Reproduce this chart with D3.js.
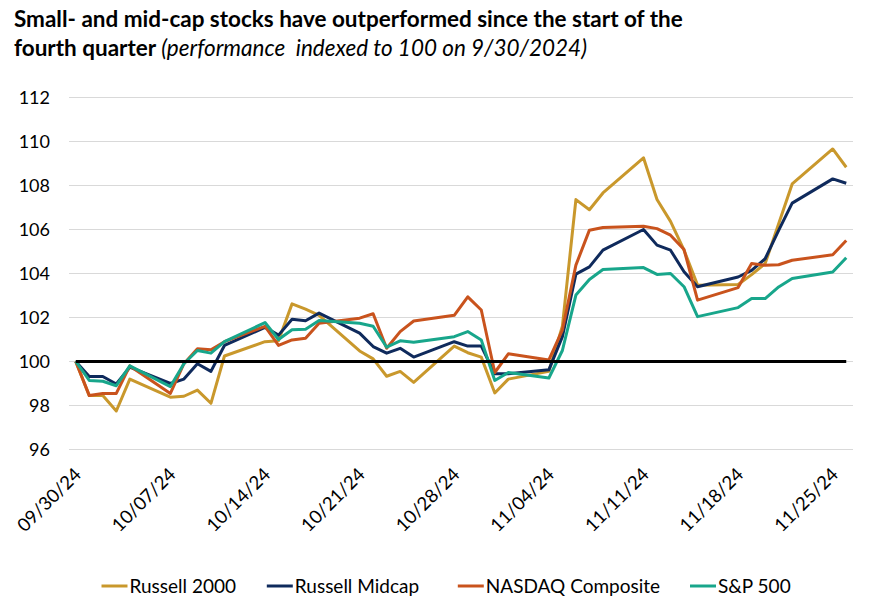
<!DOCTYPE html>
<html>
<head>
<meta charset="utf-8">
<script src="https://cdn.jsdelivr.net/npm/d3@7"></script>
<style>
  html, body { margin: 0; padding: 0; background: #fff; }
  svg { display: block; font-family: Lato, "Open Sans", sans-serif; }
</style>
</head>
<body>
<svg id="chart" width="885" height="612"></svg>
<script>
// ---- data ----
const dates = ["2024-09-30","2024-10-01","2024-10-02","2024-10-03","2024-10-04",
  "2024-10-07","2024-10-08","2024-10-09","2024-10-10","2024-10-11",
  "2024-10-14","2024-10-15","2024-10-16","2024-10-17","2024-10-18",
  "2024-10-21","2024-10-22","2024-10-23","2024-10-24","2024-10-25",
  "2024-10-28","2024-10-29","2024-10-30","2024-10-31","2024-11-01",
  "2024-11-04","2024-11-05","2024-11-06","2024-11-07","2024-11-08",
  "2024-11-11","2024-11-12","2024-11-13","2024-11-14","2024-11-15",
  "2024-11-18","2024-11-19","2024-11-20","2024-11-21","2024-11-22",
  "2024-11-25","2024-11-26"];
const russell2000 = [100, 98.45, 98.45, 97.75, 99.2, 98.38, 98.42, 98.7, 98.1, 100.25,
  100.9, 100.94, 102.62, 102.38, 102.1, 100.48, 100.12, 99.33, 99.55, 99.05,
  100.7, 100.4, 100.2, 98.57, 99.2, 99.55, 101.6, 107.36, 106.9, 107.66,
  109.26, 107.36, 106.37, 105.06, 103.47, 103.5, 103.95, 104.45, 106.26, 108.07,
  109.66, 108.83];
const russellMidcap = [100, 99.32, 99.32, 98.98, 99.74, 99.0, 99.2, 99.9, 99.55, 100.73,
  101.55, 101.2, 101.92, 101.85, 102.2, 101.29, 100.68, 100.38, 100.6, 100.2,
  100.9, 100.7, 100.7, 99.44, 99.44, 99.62, 101.13, 103.97, 104.3, 105.06,
  106.0, 105.29, 105.06, 104.08, 103.4, 103.84, 104.14, 104.67, 105.96, 107.2,
  108.3, 108.1];
const nasdaq = [100, 98.45, 98.55, 98.55, 99.8, 98.55, 99.9, 100.58, 100.53, 100.9,
  101.6, 100.73, 100.98, 101.06, 101.74, 101.97, 102.17, 100.6, 101.36, 101.84,
  102.1, 102.94, 102.34, 99.5, 100.35, 100.07, 101.43, 104.38, 105.97, 106.09,
  106.15, 106.04, 105.74, 105.09, 102.79, 103.36, 104.45, 104.37, 104.4, 104.6,
  104.85, 105.5];
const sp500 = [100, 99.14, 99.1, 98.9, 99.8, 98.86, 99.9, 100.5, 100.38, 100.9,
  101.77, 101.0, 101.44, 101.47, 101.86, 101.74, 101.6, 100.65, 100.94, 100.87,
  101.13, 101.36, 100.98, 99.14, 99.5, 99.25, 100.5, 103.02, 103.73, 104.18,
  104.27, 103.96, 104.0, 103.4, 102.04, 102.45, 102.86, 102.86, 103.39, 103.77,
  104.07, 104.72];
const baseline = 100;
const seriesNames = ["Russell 2000", "Russell Midcap", "NASDAQ Composite", "S&P 500"];
const seriesColors = ["#C9982C", "#0F2A5C", "#C9531D", "#18A68B"];
const yTicks = [96, 98, 100, 102, 104, 106, 108, 110, 112];
const xTickLabels = ["09/30/24","10/07/24","10/14/24","10/21/24","10/28/24","11/04/24","11/11/24","11/18/24","11/25/24"];
const titleLine1 = "Small- and mid-cap stocks have outperformed since the start of the";
const titleLine2Bold = "fourth quarter ";
const titleLine2Italic = "(performance  indexed to 100 on 9/30/2024)";

// ---- setup ----
const svg = d3.select("#chart");
const parse = d3.timeParse("%Y-%m-%d");
const tickParse = d3.timeParse("%m/%d/%y");
const dayMs = 864e5;
const xDates = dates.map(parse);
const x = d3.scaleTime()
  .domain([new Date(+xDates[0] - dayMs / 2), new Date(+xDates[xDates.length - 1] + dayMs / 2)])
  .range([69, 853]);
const y = d3.scaleLinear().domain([96, 112]).range([449.5, 97.5]);

// gridlines
svg.append("g").selectAll("line").data(yTicks).join("line")
  .attr("x1", 69).attr("x2", 853)
  .attr("y1", d => y(d)).attr("y2", d => y(d))
  .attr("stroke", "#d9d9d9").attr("stroke-width", 1);

// y axis labels
const yAxis = d3.axisLeft(y).tickValues(yTicks).tickSize(0).tickPadding(0);
const yg = svg.append("g").attr("transform", "translate(50,0)").call(yAxis);
yg.select(".domain").remove();
yg.selectAll("text").attr("font-size", 18).attr("fill", "#000")
  .attr("font-family", "Lato, sans-serif").attr("dy", "0.36em");

// x axis labels
const xAxis = d3.axisBottom(x).tickValues(xTickLabels.map(tickParse))
  .tickFormat(d3.timeFormat("%m/%d/%y")).tickSize(0);
const xg = svg.append("g").call(xAxis);
xg.select(".domain").remove();
xg.selectAll(".tick").attr("transform", d => `translate(${x(d) + 2},471)`);
xg.selectAll("text")
  .attr("font-size", 18.5).attr("fill", "#000").attr("font-family", "Lato, sans-serif")
  .attr("text-anchor", "end").attr("y", 0).attr("dy", "0.35em")
  .attr("transform", "rotate(-45)");

// lines
const allSeries = [russell2000, russellMidcap, nasdaq, sp500];
const line = d3.line().x((d, i) => x(xDates[i])).y(d => y(d));
svg.append("g").selectAll("path").data(allSeries).join("path")
  .attr("d", d => line(d))
  .attr("fill", "none")
  .attr("stroke", (d, i) => seriesColors[i])
  .attr("stroke-width", 3)
  .attr("stroke-linejoin", "round");

// 100 baseline
svg.append("path")
  .attr("d", line(dates.map(() => baseline)))
  .attr("fill", "none").attr("stroke", "#000").attr("stroke-width", 3);

// title
function fitWidth(sel, target) {
  const w = sel.node().getComputedTextLength();
  const fs = parseFloat(sel.attr("font-size"));
  sel.attr("font-size", fs * target / w);
}
const t1 = svg.append("text").attr("x", 14).attr("y", 27)
  .attr("font-size", 20).attr("font-weight", "bold").attr("fill", "#000")
  .text(titleLine1);
fitWidth(t1, 669);
const fsTitle = parseFloat(t1.attr("font-size"));
const t2 = svg.append("text").attr("x", 14).attr("y", 56)
  .attr("font-size", fsTitle).attr("fill", "#000").style("white-space", "pre");
t2.append("tspan").attr("font-weight", "bold").text(titleLine2Bold);
t2.append("tspan").attr("font-style", "italic").text(titleLine2Italic);

// legend
const legendLineX = [101.5, 266.8, 457.8, 690];
const lg = svg.append("g");
seriesNames.forEach((name, i) => {
  lg.append("line")
    .attr("x1", legendLineX[i]).attr("x2", legendLineX[i] + 26)
    .attr("y1", 586).attr("y2", 586)
    .attr("stroke", seriesColors[i]).attr("stroke-width", 3);
  lg.append("text")
    .attr("x", legendLineX[i] + 28).attr("y", 586).attr("dy", "0.35em")
    .attr("font-size", 19).attr("fill", "#000")
    .text(name);
});
</script>
</body>
</html>
